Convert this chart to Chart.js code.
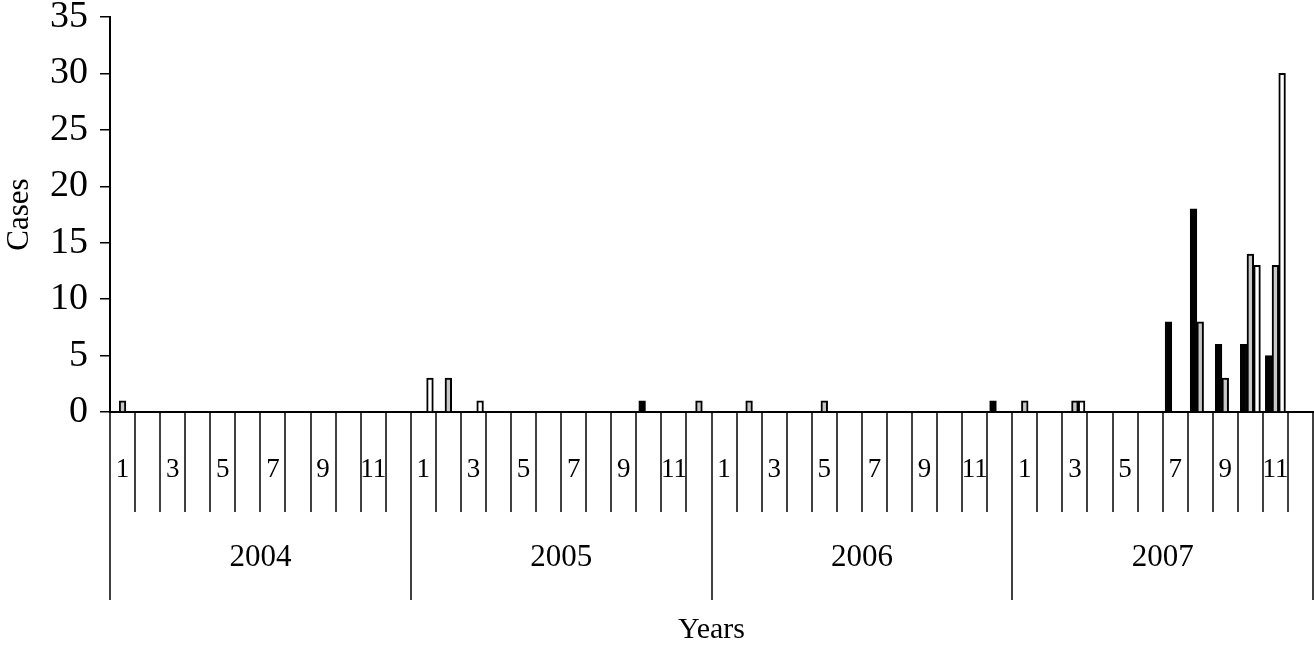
<!DOCTYPE html>
<html>
<head>
<meta charset="utf-8">
<script src="https://cdn.jsdelivr.net/npm/chart.js@4.4.0/dist/chart.umd.min.js"></script>
<style>
    html, body { margin: 0; padding: 0; background: #fff; }
    #wrap { width: 1314px; height: 645px; }
</style>
</head>
<body>
<div id="wrap"><canvas id="chart"></canvas></div>
<script>
const years = ["2004", "2005", "2006", "2007"];
const months = ["1", "2", "3", "4", "5", "6", "7", "8", "9", "10", "11", "12"];
const categories = years.flatMap(function (y) {
    return months.map(function (m) { return y + "-" + m; });
});

// one value per month, 2004-1 .. 2007-12
const seriesBlack = [
    0, 0, 0, 0, 0, 0, 0, 0, 0, 0, 0, 0,
    0, 0, 0, 0, 0, 0, 0, 0, 0, 1, 0, 0,
    0, 0, 0, 0, 0, 0, 0, 0, 0, 0, 0, 1,
    0, 0, 0, 0, 0, 0, 8, 18, 6, 6, 5, 0
];
const seriesGray = [
    1, 0, 0, 0, 0, 0, 0, 0, 0, 0, 0, 0,
    0, 3, 0, 0, 0, 0, 0, 0, 0, 0, 0, 1,
    0, 1, 0, 0, 1, 0, 0, 0, 0, 0, 0, 0,
    1, 0, 1, 0, 0, 0, 0, 8, 3, 14, 13, 0
];
const seriesWhite = [
    0, 0, 0, 0, 0, 0, 0, 0, 0, 0, 0, 0,
    3, 0, 1, 0, 0, 0, 0, 0, 0, 0, 0, 0,
    0, 0, 0, 0, 0, 0, 0, 0, 0, 0, 0, 0,
    0, 0, 1, 0, 0, 0, 0, 0, 0, 13, 30, 0
];
const yTicks = [0, 5, 10, 15, 20, 25, 30, 35];

const serif = "'Liberation Serif', 'Times New Roman', serif";

// month / year rows under the axis
const bottomAxis = {
    id: "bottomAxis",
    afterDraw: function (chart) {
        const ctx = chart.ctx;
        const x = chart.scales.x;
        const y0 = chart.chartArea.bottom;
        const step = x.getPixelForValue(1) - x.getPixelForValue(0);

        ctx.save();
        ctx.strokeStyle = "#000";
        ctx.lineWidth = 1.5;
        for (let i = 0; i <= categories.length; i++) {
            const px = Math.round(x.getPixelForValue(i) - step / 2);
            const len = i % 12 === 0 ? 188 : 100;
            ctx.beginPath();
            ctx.moveTo(px, y0);
            ctx.lineTo(px, y0 + len);
            ctx.stroke();
        }

        ctx.fillStyle = "#000";
        ctx.textAlign = "center";
        ctx.textBaseline = "middle";
        ctx.font = "27px " + serif;
        categories.forEach(function (c, i) {
            if (i % 2 === 0) {
                ctx.fillText(months[i % 12], x.getPixelForValue(i), y0 + 58);
            }
        });
        ctx.font = "31px " + serif;
        years.forEach(function (yr, k) {
            const a = x.getPixelForValue(k * 12) - step / 2;
            const b = x.getPixelForValue(k * 12 + 11) + step / 2;
            ctx.fillText(yr, (a + b) / 2, y0 + 146);
        });
        ctx.font = "30px " + serif;
        ctx.fillText("Years", (chart.chartArea.left + chart.chartArea.right) / 2, y0 + 218);
        ctx.restore();
    }
};

new Chart(document.getElementById("chart"), {
    type: "bar",
    data: {
        labels: categories,
        datasets: [
            { label: "black", data: seriesBlack, backgroundColor: "#000", borderColor: "#000", borderWidth: 1.5 },
            { label: "gray", data: seriesGray, backgroundColor: "#c8c8c8", borderColor: "#000", borderWidth: 2 },
            { label: "white", data: seriesWhite, backgroundColor: "#fff", borderColor: "#000", borderWidth: 2 }
        ]
    },
    options: {
        responsive: true,
        maintainAspectRatio: false,
        animation: false,
        layout: { padding: { top: 0, right: 1, left: 0, bottom: 0 } },
        plugins: {
            legend: { display: false },
            tooltip: { enabled: false }
        },
        datasets: {
            bar: { barThickness: 6.7 }
        },
        scales: {
            x: {
                ticks: { display: false },
                grid: { display: false },
                border: { display: true, color: "#000", width: 2 },
                afterFit: function (s) {
                    s.height = 233;
                    s.paddingLeft = 0;
                    s.paddingRight = 0;
                }
            },
            y: {
                min: 0,
                max: 35,
                afterBuildTicks: function (s) {
                    s.ticks = yTicks.map(function (v) { return { value: v }; });
                },
                ticks: {
                    color: "#000",
                    padding: 12,
                    font: { family: serif, size: 38, lineHeight: 1 }
                },
                grid: {
                    drawOnChartArea: false,
                    drawTicks: true,
                    tickLength: 10,
                    color: "#000",
                    lineWidth: 1.5
                },
                border: { display: true, color: "#000", width: 2 },
                title: {
                    display: true,
                    text: "Cases",
                    color: "#000",
                    font: { family: serif, size: 31 },
                    padding: { top: 1, bottom: 0 }
                },
                afterFit: function (s) {
                    s.width = 110;
                    s.paddingTop = 17;
                    s.paddingBottom = 0;
                }
            }
        }
    },
    plugins: [bottomAxis]
});
</script>
</body>
</html>
